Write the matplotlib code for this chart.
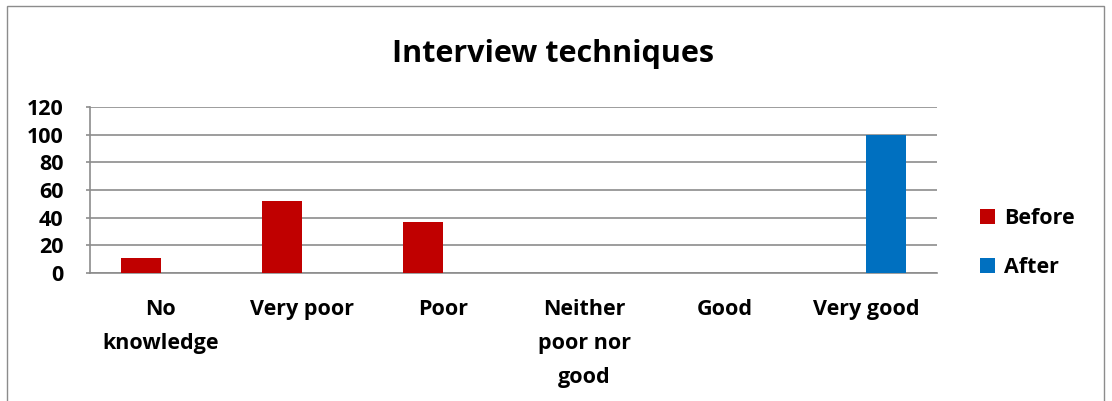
import numpy as np
import matplotlib.pyplot as plt
from matplotlib.patches import Rectangle

plt.rcParams.update({'font.family': 'Open Sans', 'font.weight': 'bold'})

categories = ["No\nknowledge", "Very poor", "Poor", "Neither\npoor nor\ngood", "Good", "Very good"]
before = [11, 52, 37, 0, 0, 0]
after = [0, 0, 0, 0, 0, 100]

fig = plt.figure(figsize=(11.12, 4.01), dpi=100)
ax = fig.add_axes([0.0809, 0.319, 0.7617, 0.414])

# chart frame
fig.patches.append(Rectangle((0.006, -0.01), 0.987, 0.994, transform=fig.transFigure,
                             fill=False, edgecolor='#8c8c8c', linewidth=1.0))

ind = np.arange(len(categories))
width = 0.283
ax.bar(ind - width / 2, before, width, color='#C00000', label='Before', zorder=3)
ax.bar(ind + width / 2, after, width, color='#0070C0', label='After', zorder=3)

ax.set_xlim(-0.5, len(categories) - 0.5)
ax.set_ylim(0, 120)
ax.set_yticks(range(0, 121, 20))
ax.yaxis.grid(True, color='#8c8c8c', linewidth=1.2, zorder=0)
ax.set_axisbelow(True)
for s in ['top', 'right']:
    ax.spines[s].set_visible(False)
for s in ['left', 'bottom']:
    ax.spines[s].set_color('#8c8c8c')
    ax.spines[s].set_linewidth(1.2)
ax.tick_params(axis='x', length=0, labelsize=15.5, pad=19)
ax.tick_params(axis='y', length=3, color='#8c8c8c', width=1.2, labelsize=15.5, pad=16)
ax.set_xticks(ind)
ax.set_xticklabels(categories, fontweight='bold', linespacing=1.8, va='top')
for lbl in ax.get_yticklabels():
    lbl.set_fontweight('bold')

fig.text(0.497, 0.865, "Interview techniques", ha='center', va='center', fontsize=22, fontweight='bold')

fig.legend(loc='center left', bbox_to_anchor=(0.864, 0.395), frameon=False,
           handlelength=0.7, handleheight=0.7, handletextpad=0.4, labelspacing=1.3,
           prop={'weight': 'bold', 'size': 15.5})

plt.savefig('out.png')
plt.close()
